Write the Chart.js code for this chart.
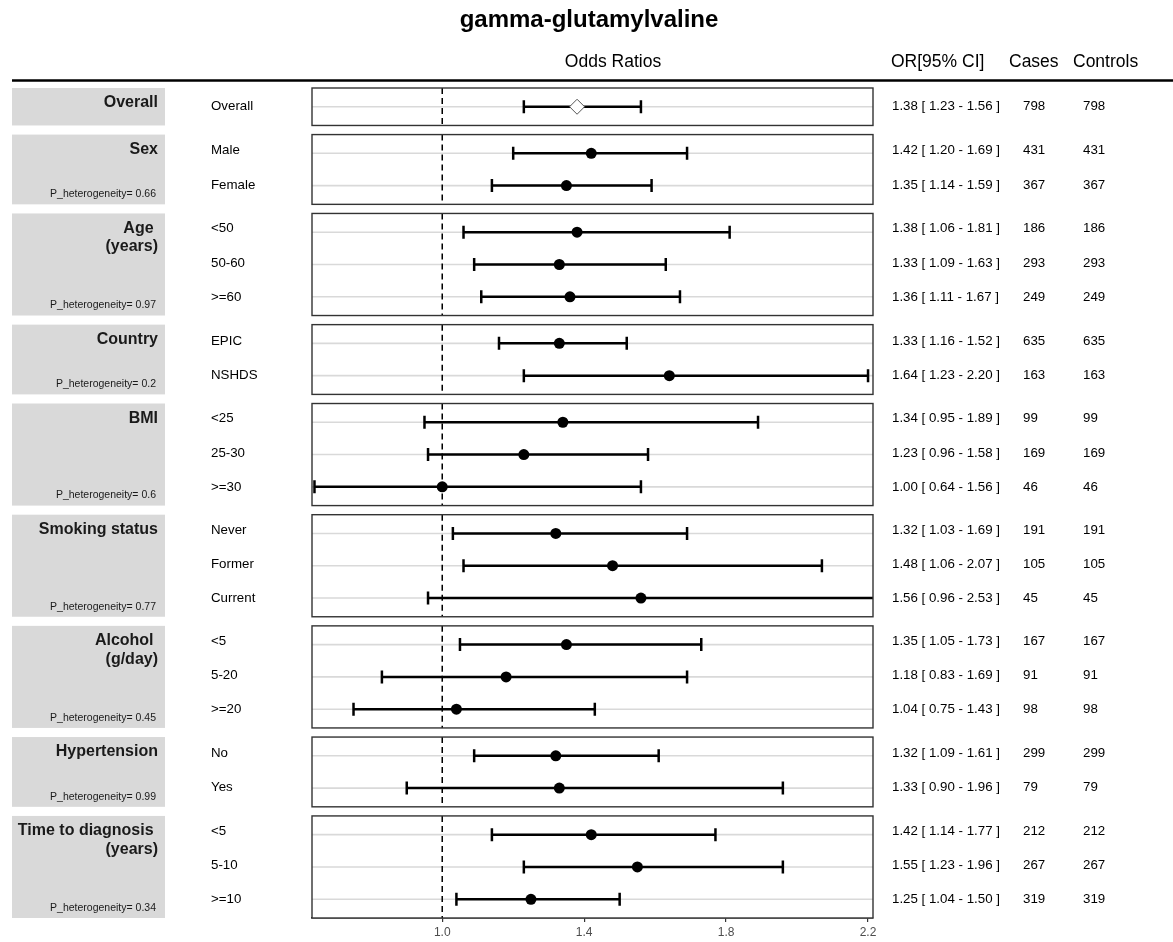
<!DOCTYPE html>
<html><head><meta charset="utf-8">
<script src="https://cdn.jsdelivr.net/npm/chart.js@4.4.0/dist/chart.umd.min.js"></script>
<style>html,body{margin:0;padding:0;background:#fff;} #wrap{width:1173px;height:942px;position:relative;}</style>
</head><body><div id="wrap"><canvas id="c" width="1173" height="942"></canvas></div>
<script>
// ---------------- data ----------------
const chartTitle = 'gamma-glutamylvaline';
const columnHeaders = ['Odds Ratios', 'OR[95% CI]', 'Cases', 'Controls'];
const groupNames = ['Overall', 'Sex', 'Age \n(years)', 'Country', 'BMI', 'Smoking status', 'Alcohol \n(g/day)', 'Hypertension', 'Time to diagnosis \n(years)'];
const groupPHet = [null, '0.66', '0.97', '0.2', '0.6', '0.77', '0.45', '0.99', '0.34'];
const rowGroup = [0, 1, 1, 2, 2, 2, 3, 3, 4, 4, 4, 5, 5, 5, 6, 6, 6, 7, 7, 8, 8, 8];
const rowLabels = ['Overall', 'Male', 'Female', '<50', '50-60', '>=60', 'EPIC', 'NSHDS', '<25', '25-30', '>=30', 'Never', 'Former', 'Current', '<5', '5-20', '>=20', 'No', 'Yes', '<5', '5-10', '>=10'];
const orValues = [1.38, 1.42, 1.35, 1.38, 1.33, 1.36, 1.33, 1.64, 1.34, 1.23, 1.00, 1.32, 1.48, 1.56, 1.35, 1.18, 1.04, 1.32, 1.33, 1.42, 1.55, 1.25];
const ciLower = [1.23, 1.20, 1.14, 1.06, 1.09, 1.11, 1.16, 1.23, 0.95, 0.96, 0.64, 1.03, 1.06, 0.96, 1.05, 0.83, 0.75, 1.09, 0.90, 1.14, 1.23, 1.04];
const ciUpper = [1.56, 1.69, 1.59, 1.81, 1.63, 1.67, 1.52, 2.20, 1.89, 1.58, 1.56, 1.69, 2.07, 2.53, 1.73, 1.69, 1.43, 1.61, 1.96, 1.77, 1.96, 1.50];
const cases = [798, 431, 367, 186, 293, 249, 635, 163, 99, 169, 46, 191, 105, 45, 167, 91, 98, 299, 79, 212, 267, 319];
const controls = [798, 431, 367, 186, 293, 249, 635, 163, 99, 169, 46, 191, 105, 45, 167, 91, 98, 299, 79, 212, 267, 319];
const xTicks = [1.0, 1.4, 1.8, 2.2];
const refValue = 1.0;

// ---------------- layout (row units) ----------------
const PAD = 0.58, GAP = 0.282;
const panels = [];
const rowY = new Array(rowLabels.length);
let cursor = 0;
groupNames.forEach((name, g) => {
  const idx = rowGroup.map((gg, i) => gg === g ? i : -1).filter(i => i >= 0);
  const start = cursor;
  idx.forEach((ri, k) => { rowY[ri] = start + PAD + k; });
  const end = start + (idx.length - 1) + 2 * PAD;
  panels.push({ g, start, end, rows: idx });
  cursor = end + GAP;
});
const yMax = panels[panels.length - 1].end;

const FONT = '"Liberation Sans", Arial, Helvetica, sans-serif';
const f = (w, s) => `${w} ${s}px ${FONT}`;

const forestPlugin = {
  id: 'forest',
  beforeDraw(chart) {
    const ctx = chart.ctx, ys = chart.scales.y;
    ctx.save();
    ctx.fillStyle = '#fff';
    ctx.fillRect(0, 0, chart.width, chart.height);
    // title
    ctx.fillStyle = '#000';
    ctx.font = f('bold', 24);
    ctx.textAlign = 'center'; ctx.textBaseline = 'middle';
    ctx.fillText(chartTitle, 589, 20);
    // headers
    ctx.font = f('normal', 17.5);
    ctx.fillText(columnHeaders[0], 613, 62);
    ctx.textAlign = 'left';
    ctx.fillText(columnHeaders[1], 891, 62);
    ctx.fillText(columnHeaders[2], 1009, 62);
    ctx.fillText(columnHeaders[3], 1073, 62);
    // header rule
    ctx.strokeStyle = '#000'; ctx.lineWidth = 2.5;
    ctx.beginPath(); ctx.moveTo(12, 80.5); ctx.lineTo(1173, 80.5); ctx.stroke();
    // strips and texts
    panels.forEach(p => {
      const top = ys.getPixelForValue(p.start), bot = ys.getPixelForValue(p.end);
      ctx.fillStyle = '#d9d9d9';
      ctx.fillRect(12, top, 153, bot - top);
      ctx.fillStyle = '#1a1a1a';
      ctx.font = f('bold', 16);
      ctx.textAlign = 'right'; ctx.textBaseline = 'middle';
      groupNames[p.g].split('\n').forEach((ln, k) => ctx.fillText(ln, 158, top + 15 + k * 18.5));
      if (groupPHet[p.g] !== null) {
        ctx.font = f('normal', 10.5);
        ctx.fillText('P_heterogeneity= ' + groupPHet[p.g], 156, bot - 10);
      }
      const n = p.rows.length, mid = (top + bot) / 2;
      ctx.fillStyle = '#000';
      ctx.textAlign = 'left';
      ctx.font = f('normal', 13.3);
      p.rows.forEach((ri, k) => {
        const ty = mid + (k - (n - 1) / 2) * 34.3 - (n > 1 ? 1.5 : 0);
        ctx.fillText(rowLabels[ri], 211, ty);
        ctx.fillText(orValues[ri].toFixed(2) + ' [ ' + ciLower[ri].toFixed(2) + ' - ' + ciUpper[ri].toFixed(2) + ' ]', 892, ty);
        ctx.fillText(String(cases[ri]), 1023, ty);
        ctx.fillText(String(controls[ri]), 1083, ty);
      });
    });
    ctx.restore();
  },
  beforeDatasetsDraw(chart) {
    const ctx = chart.ctx, ys = chart.scales.y, xs = chart.scales.x, ca = chart.chartArea;
    ctx.save();
    panels.forEach(p => {
      const top = ys.getPixelForValue(p.start), bot = ys.getPixelForValue(p.end);
      ctx.save();
      ctx.beginPath(); ctx.rect(ca.left, top, ca.right - ca.left, bot - top); ctx.clip();
      ctx.fillStyle = '#fff';
      ctx.fillRect(ca.left, top, ca.right - ca.left, bot - top);
      // row grid lines
      ctx.strokeStyle = '#d9d9d9'; ctx.lineWidth = 1.6;
      p.rows.forEach(ri => {
        const y = ys.getPixelForValue(rowY[ri]);
        ctx.beginPath(); ctx.moveTo(ca.left, y); ctx.lineTo(ca.right, y); ctx.stroke();
      });
      // reference line
      const xr = xs.getPixelForValue(refValue);
      ctx.strokeStyle = '#000'; ctx.lineWidth = 1.5; ctx.setLineDash([6, 4]);
      ctx.beginPath(); ctx.moveTo(xr, top); ctx.lineTo(xr, bot); ctx.stroke();
      ctx.setLineDash([]);
      // error bars
      ctx.strokeStyle = '#000'; ctx.lineWidth = 2.5;
      p.rows.forEach(ri => {
        const y = ys.getPixelForValue(rowY[ri]);
        const x0 = xs.getPixelForValue(ciLower[ri]), x1 = xs.getPixelForValue(ciUpper[ri]);
        ctx.beginPath();
        ctx.moveTo(x0, y); ctx.lineTo(x1, y);
        ctx.moveTo(x0, y - 6.5); ctx.lineTo(x0, y + 6.5);
        ctx.moveTo(x1, y - 6.5); ctx.lineTo(x1, y + 6.5);
        ctx.stroke();
      });
      ctx.restore();
    });
    ctx.restore();
  },
  afterDatasetsDraw(chart) {
    const ctx = chart.ctx, ys = chart.scales.y, ca = chart.chartArea;
    ctx.save();
    ctx.strokeStyle = '#333'; ctx.lineWidth = 1.4;
    panels.forEach(p => {
      const top = ys.getPixelForValue(p.start), bot = ys.getPixelForValue(p.end);
      ctx.strokeRect(ca.left, top, ca.right - ca.left, bot - top);
    });
    ctx.restore();
  }
};

const overallPts = [], subPts = [];
rowLabels.forEach((l, i) => {
  const pt = { x: orValues[i], y: rowY[i] };
  if (rowGroup[i] === 0) overallPts.push(pt); else subPts.push(pt);
});

new Chart(document.getElementById('c'), {
  type: 'scatter',
  data: {
    datasets: [
      { data: overallPts, pointStyle: 'rectRot', pointRadius: 7.5, backgroundColor: '#fff', borderColor: '#555', borderWidth: 1 },
      { data: subPts, pointStyle: 'circle', pointRadius: 5.5, backgroundColor: '#000', borderColor: '#000', borderWidth: 0 }
    ]
  },
  options: {
    responsive: false,
    animation: false,
    events: [],
    layout: { padding: { left: 312, right: 300, top: 88, bottom: 0 } },
    plugins: { legend: { display: false }, tooltip: { enabled: false }, title: { display: false } },
    scales: {
      x: {
        type: 'linear', min: 0.633, max: 2.214,
        afterBuildTicks: s => { s.ticks = xTicks.map(v => ({ value: v })); },
        afterFit: s => { s.height = 24; },
        grid: { display: true, drawOnChartArea: false, drawTicks: true, tickLength: 4, color: '#333', lineWidth: 1.2 },
        border: { display: true, color: '#222', width: 1.6 },
        ticks: { callback: v => Number(v).toFixed(1), color: '#4d4d4d', font: { size: 12, family: FONT }, padding: 3, maxRotation: 0 }
      },
      y: { type: 'linear', reverse: true, min: 0, max: yMax, display: false }
    }
  },
  plugins: [forestPlugin]
});
</script>
</body></html>
